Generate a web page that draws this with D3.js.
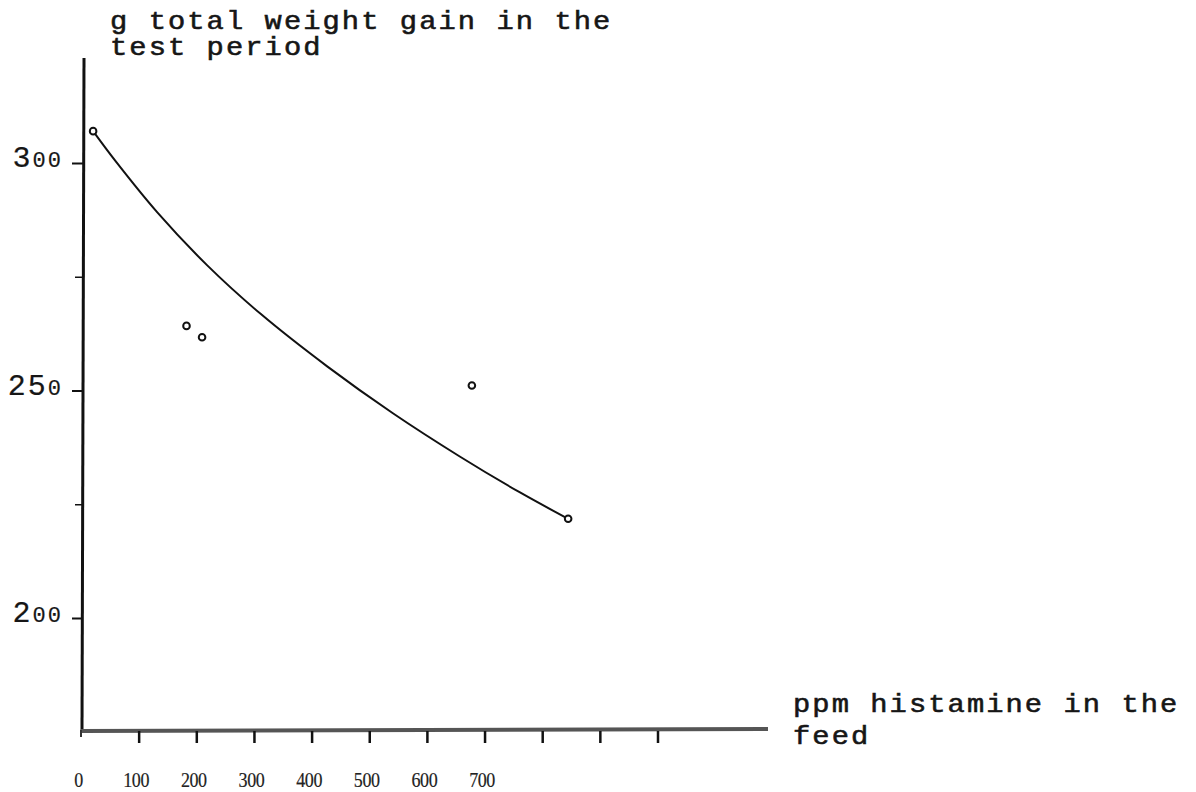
<!DOCTYPE html>
<html>
<head>
<meta charset="utf-8">
<script src="https://cdn.jsdelivr.net/npm/d3@7"></script>
<style>
  html, body { margin: 0; padding: 0; background: #fff; }
  svg { display: block; }
  .typed { font-family: "Liberation Mono", "DejaVu Sans Mono", monospace; fill: #161616; stroke: #161616; stroke-width: 0.55px; }
  .xnum { font-family: "Liberation Serif", "DejaVu Serif", serif; fill: #222; stroke: #222; stroke-width: 0.2px; }
</style>
</head>
<body>
<svg id="chart" width="1196" height="792"></svg>
<script>
// Measured doses (ppm histamine) and total weight gain (g)
const doses = [21, 183, 210, 678, 845];
const gains = [307, 264.2, 261.7, 251.1, 221.8];

// Hand-fitted response curve, read along its length
const curveDoses = [21, 60, 132, 219, 311, 427, 541, 657, 760, 845];
const curveGains = [307, 300.4, 289.2, 277.5, 266.9, 255.3, 245.0, 235.5, 227.7, 221.8];

// Axis ticks
const xTickValues = [100, 200, 300, 400, 500, 600, 700, 800, 900, 1000];
const xLabelValues = [0, 100, 200, 300, 400, 500, 600, 700];
const xLabelTexts = ["0", "100", "200", "300", "400", "500", "600", "700"];
const yTickValues = [200, 225, 250, 275, 300];
const yLabelValues = [200, 250, 300];
const yLabelTexts = ["200", "250", "300"];

// Axis titles
const yTitleLines = ["g total weight gain in the", "test period"];
const xTitleLines = ["ppm histamine in the", "feed"];

const svg = d3.select("#chart");

const x = d3.scaleLinear().domain([0, 1000]).range([81, 657.5]);
const y = d3.scaleLinear().domain([200, 300]).range([618, 163]);

const originX = 82, axisY = 731, yAxisTop = 58, xAxisEnd = 768;

// y axis line
svg.append("line")
  .attr("x1", originX + 2).attr("y1", yAxisTop)
  .attr("x2", originX).attr("y2", axisY)
  .attr("stroke", "#111").attr("stroke-width", 3);

// x axis line
svg.append("line")
  .attr("x1", originX - 1).attr("y1", axisY)
  .attr("x2", xAxisEnd).attr("y2", axisY - 2)
  .attr("stroke", "#555").attr("stroke-width", 4);
svg.append("line")
  .attr("x1", originX - 1).attr("y1", axisY - 1)
  .attr("x2", originX - 1).attr("y2", axisY + 6)
  .attr("stroke", "#333").attr("stroke-width", 2);

// x ticks
const xAxis = d3.axisBottom(x).tickValues(xTickValues).tickSize(12).tickFormat("");
const gx = svg.append("g").attr("transform", `translate(0,${axisY})`).call(xAxis);
gx.select(".domain").remove();
gx.selectAll(".tick line").attr("stroke", "#111").attr("stroke-width", 2.5);

// x tick labels (narrow serif figures)
const xLab = d3.axisBottom(x).tickValues(xLabelValues).tickSize(0)
  .tickFormat((d, i) => xLabelTexts[i]);
const gxl = svg.append("g").attr("transform", `translate(-3,${axisY + 56})`).call(xLab);
gxl.select(".domain").remove();
gxl.selectAll(".tick text")
  .attr("class", "xnum")
  .attr("dy", 0)
  .attr("y", 0)
  .attr("transform", "scale(0.82,1)")
  .style("font-size", "22px")
  .style("letter-spacing", "-0.5px");

// y ticks
const yAxis = d3.axisLeft(y).tickValues(yTickValues).tickSize(11).tickFormat("");
const gy = svg.append("g").attr("transform", `translate(${originX + 1},0)`).call(yAxis);
gy.select(".domain").remove();
gy.selectAll(".tick line")
  .attr("stroke", "#111")
  .attr("stroke-width", d => yLabelValues.includes(d) ? 2 : 1.5)
  .attr("x2", d => yLabelValues.includes(d) ? -11 : -8);

// y tick labels: typewriter digits with small round zeros
const yl = svg.append("g");
yLabelValues.forEach((v, i) => {
  const t = yl.append("text")
    .attr("class", "typed")
    .attr("x", 63)
    .attr("y", y(v) + 4)
    .attr("text-anchor", "end")
    .style("stroke-width", "0.2px")
    .style("letter-spacing", "2px");
  yLabelTexts[i].split("").forEach(ch => {
    t.append("tspan")
      .style("font-size", ch === "0" ? "22px" : "30px")
      .text(ch);
  });
});

// response curve
const line = d3.line()
  .x(d => x(d[0]))
  .y(d => y(d[1]))
  .curve(d3.curveCatmullRom.alpha(0.5));
svg.append("path")
  .datum(curveDoses.map((d, i) => [d, curveGains[i]]))
  .attr("d", line)
  .attr("fill", "none")
  .attr("stroke", "#111")
  .attr("stroke-width", 2);

// observations
svg.append("g").selectAll("circle")
  .data(doses.map((d, i) => [d, gains[i]]))
  .join("circle")
  .attr("cx", d => x(d[0]))
  .attr("cy", d => y(d[1]))
  .attr("r", 3.3)
  .attr("fill", "#fff")
  .attr("stroke", "#111")
  .attr("stroke-width", 2);

// axis titles, typed in wide typewriter letters
function typedBlock(lines, left, top, lead) {
  const t = svg.append("text").attr("class", "typed")
    .attr("transform", `translate(${left},0) scale(1.15,1)`)
    .style("font-size", "25px").style("letter-spacing", "1.8px");
  lines.forEach((s, i) => {
    t.append("tspan").attr("x", 0).attr("y", top + i * lead).text(s);
  });
}
typedBlock(yTitleLines, 110, 29, 26);
typedBlock(xTitleLines, 793, 712, 32);
</script>
</body>
</html>
